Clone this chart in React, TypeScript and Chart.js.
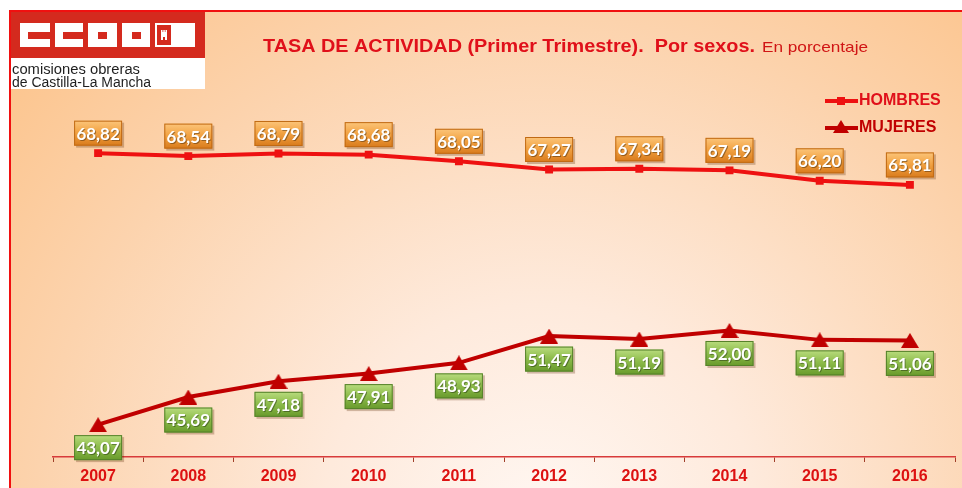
import React, { useEffect, useRef } from 'react';
import { Chart, registerables } from 'chart.js';

Chart.register(...registerables);

const YEARS = ['2007', '2008', '2009', '2010', '2011', '2012', '2013', '2014', '2015', '2016'];
const HOMBRES = [68.82, 68.54, 68.79, 68.68, 68.05, 67.27, 67.34, 67.19, 66.2, 65.81];
const MUJERES = [43.07, 45.69, 47.18, 47.91, 48.93, 51.47, 51.19, 52.0, 51.11, 51.06];
const SERIES_NAMES = ['HOMBRES', 'MUJERES'];
const TITLE_BOLD = 'TASA DE ACTIVIDAD (Primer Trimestre).  Por sexos.';
const TITLE_REST = 'En porcentaje';
const LOGO_LINES = ['comisiones obreras', 'de Castilla-La Mancha'];

const RED = '#ee1111';
const DARK_RED = '#c00000';

const fmt = (v: number) => v.toFixed(2).replace('.', ',');

function makeTriangle(w: number, h: number, color: string) {
  const c = document.createElement('canvas');
  c.width = w;
  c.height = h;
  const x = c.getContext('2d')!;
  x.fillStyle = color;
  x.beginPath();
  x.moveTo(w / 2, 0);
  x.lineTo(w, h);
  x.lineTo(0, h);
  x.closePath();
  x.fill();
  return c;
}

function drawScaledText(ctx: CanvasRenderingContext2D, text: string, x: number, y: number, targetW: number) {
  const m = ctx.measureText(text).width;
  ctx.save();
  ctx.translate(x, y);
  ctx.scale(targetW / m, 1);
  ctx.fillText(text, 0, 0);
  ctx.restore();
}

const backgroundPlugin = {
  id: 'bgDecor',
  beforeDraw(chart: any) {
    const ctx: CanvasRenderingContext2D = chart.ctx;
    const W = chart.width;
    const H = chart.height;
    ctx.save();
    ctx.fillStyle = '#ffffff';
    ctx.fillRect(0, 0, W, H);
    const g = ctx.createRadialGradient(540, 520, 0, 540, 520, 720);
    g.addColorStop(0, '#fff7f2');
    g.addColorStop(0.3, '#feeadc');
    g.addColorStop(0.7, '#fcd3ad');
    g.addColorStop(1, '#fcc38a');
    ctx.fillStyle = g;
    ctx.fillRect(10, 10, W - 10, H - 10);
    ctx.fillStyle = '#f01010';
    ctx.fillRect(10, 10, W - 10, 2);
    ctx.fillRect(9, 10, 2, H - 10);

    // logo
    ctx.fillStyle = '#ffffff';
    ctx.fillRect(11, 12, 194, 77);
    ctx.fillStyle = '#d42a1e';
    ctx.fillRect(11, 12, 194, 46);
    ctx.fillStyle = '#ffffff';
    ctx.fillRect(20, 23, 30, 24);
    ctx.fillRect(55, 23, 28, 24);
    ctx.fillRect(88, 23, 29, 24);
    ctx.fillRect(122, 23, 28, 24);
    ctx.fillRect(155, 23, 18, 24);
    ctx.fillRect(173, 23, 22, 24);
    ctx.fillStyle = '#d42a1e';
    ctx.fillRect(28, 32, 22, 7);
    ctx.fillRect(63, 32, 20, 7);
    ctx.fillRect(98, 32, 9, 7);
    ctx.fillRect(132, 32, 9, 7);
    ctx.fillRect(157, 25, 14, 20);
    ctx.fillStyle = '#ffffff';
    ctx.fillRect(161, 32, 6, 8);
    ctx.fillRect(161, 30, 1.5, 2);
    ctx.fillRect(163.3, 30, 1.5, 2);
    ctx.fillRect(165.5, 30, 1.5, 2);
    ctx.fillStyle = '#d42a1e';
    ctx.fillRect(163, 37, 2, 3);

    ctx.fillStyle = '#1e1e1e';
    ctx.font = '14px "Liberation Sans", Arial, sans-serif';
    ctx.textBaseline = 'alphabetic';
    ctx.textAlign = 'left';
    drawScaledText(ctx, LOGO_LINES[0], 12, 74, 128);
    drawScaledText(ctx, LOGO_LINES[1], 12, 87, 139);

    // title
    ctx.fillStyle = '#e0101a';
    ctx.textBaseline = 'middle';
    ctx.font = 'bold 18px "Liberation Sans", Arial, sans-serif';
    drawScaledText(ctx, TITLE_BOLD, 263, 47, 492);
    ctx.fillStyle = '#d01515';
    ctx.font = '15px "Liberation Sans", Arial, sans-serif';
    drawScaledText(ctx, TITLE_REST, 762, 48, 106);
    ctx.restore();
  },
};

function drawLabelBox(ctx: CanvasRenderingContext2D, cx: number, cy: number, text: string, kind: 'orange' | 'green') {
  const w = 48;
  const h = 25;
  const x = cx - w / 2;
  const y = cy - h / 2;
  ctx.save();
  ctx.fillStyle = 'rgba(90,40,0,0.28)';
  ctx.fillRect(x + 2, y + 2, w, h);
  const g = ctx.createLinearGradient(0, y, 0, y + h);
  if (kind === 'orange') {
    g.addColorStop(0, '#fcc57a');
    g.addColorStop(0.45, '#f2a445');
    g.addColorStop(1, '#d97b1c');
  } else {
    g.addColorStop(0, '#b9dc7e');
    g.addColorStop(0.45, '#8fbd4d');
    g.addColorStop(1, '#689a2b');
  }
  ctx.fillStyle = g;
  ctx.fillRect(x, y, w, h);
  ctx.strokeStyle = kind === 'orange' ? '#c06a14' : '#55802a';
  ctx.lineWidth = 1;
  ctx.strokeRect(x + 0.5, y + 0.5, w - 1, h - 1);
  ctx.font = 'bold 17px Lato, "Liberation Sans", sans-serif';
  ctx.textAlign = 'center';
  ctx.textBaseline = 'middle';
  ctx.fillStyle = 'rgba(0,0,0,0.35)';
  ctx.fillText(text, cx + 1, cy + 2);
  ctx.fillStyle = '#ffffff';
  ctx.fillText(text, cx, cy + 1);
  ctx.restore();
}

const labelsPlugin = {
  id: 'valueBoxes',
  afterDatasetsDraw(chart: any) {
    const ctx: CanvasRenderingContext2D = chart.ctx;
    const m0 = chart.getDatasetMeta(0);
    const m1 = chart.getDatasetMeta(1);
    m0.data.forEach((el: any, i: number) => {
      drawLabelBox(ctx, el.x, el.y - 20, fmt(HOMBRES[i]), 'orange');
    });
    m1.data.forEach((el: any, i: number) => {
      drawLabelBox(ctx, el.x, el.y + 23, fmt(MUJERES[i]), 'green');
    });
  },
};

const legendPlugin = {
  id: 'customLegend',
  afterDraw(chart: any) {
    const ctx: CanvasRenderingContext2D = chart.ctx;
    ctx.save();
    ctx.lineWidth = 4;
    ctx.strokeStyle = RED;
    ctx.beginPath();
    ctx.moveTo(825, 101);
    ctx.lineTo(858, 101);
    ctx.stroke();
    ctx.fillStyle = RED;
    ctx.fillRect(837, 97, 8, 8);
    ctx.strokeStyle = DARK_RED;
    ctx.beginPath();
    ctx.moveTo(825, 128);
    ctx.lineTo(858, 128);
    ctx.stroke();
    ctx.fillStyle = DARK_RED;
    ctx.beginPath();
    ctx.moveTo(841, 120);
    ctx.lineTo(849, 133);
    ctx.lineTo(833, 133);
    ctx.closePath();
    ctx.fill();
    ctx.font = 'bold 16px "Liberation Sans", Arial, sans-serif';
    ctx.textBaseline = 'middle';
    ctx.textAlign = 'left';
    ctx.fillStyle = '#e0101a';
    ctx.fillText(SERIES_NAMES[0], 859, 101);
    ctx.fillStyle = '#c00000';
    ctx.fillText(SERIES_NAMES[1], 859, 128);
    ctx.restore();
  },
};

export default function App() {
  const ref = useRef<HTMLCanvasElement | null>(null);
  useEffect(() => {
    if (!ref.current) return;
    const tri = makeTriangle(18, 15, DARK_RED);
    const chart = new Chart(ref.current, {
      type: 'line',
      data: {
        labels: YEARS,
        datasets: [
          {
            label: SERIES_NAMES[0],
            data: HOMBRES,
            borderColor: RED,
            backgroundColor: RED,
            borderWidth: 4,
            pointStyle: 'rect',
            pointRadius: 5.6,
            pointBorderWidth: 0,
            pointBackgroundColor: RED,
            tension: 0,
          },
          {
            label: SERIES_NAMES[1],
            data: MUJERES,
            borderColor: DARK_RED,
            backgroundColor: DARK_RED,
            borderWidth: 4,
            pointStyle: tri as any,
            pointRadius: 8,
            tension: 0,
          },
        ],
      },
      options: {
        animation: false,
        responsive: false,
        maintainAspectRatio: false,
        layout: { autoPadding: false, padding: { left: 53, right: 7, top: 88, bottom: 0 } },
        plugins: {
          legend: { display: false },
          tooltip: { enabled: false },
          title: { display: false },
        },
        scales: {
          x: {
            type: 'category',
            offset: true,
            grid: {
              offset: true,
              drawOnChartArea: false,
              drawTicks: true,
              tickLength: 5,
              color: '#a0402a',
              lineWidth: 1,
            },
            border: { display: true, color: '#d83a3a', width: 1.5 },
            ticks: {
              color: '#dd1111',
              font: { family: '"Liberation Sans", Arial, sans-serif', size: 16, weight: 'bold' },
              padding: 5,
              maxRotation: 0,
              autoSkip: false,
            },
            afterFit: (s: any) => {
              s.height = 31;
              s.paddingLeft = 0;
              s.paddingRight = 0;
            },
          },
          y: { display: false, min: 40, max: 75 },
        },
      },
      plugins: [backgroundPlugin, labelsPlugin, legendPlugin],
    } as any);
    return () => chart.destroy();
  }, []);
  return (
    <div style={{ position: 'absolute', left: 0, top: 0, width: 962, height: 488 }}>
      <canvas ref={ref} width={962} height={488} style={{ display: 'block', width: 962, height: 488 }} />
    </div>
  );
}
